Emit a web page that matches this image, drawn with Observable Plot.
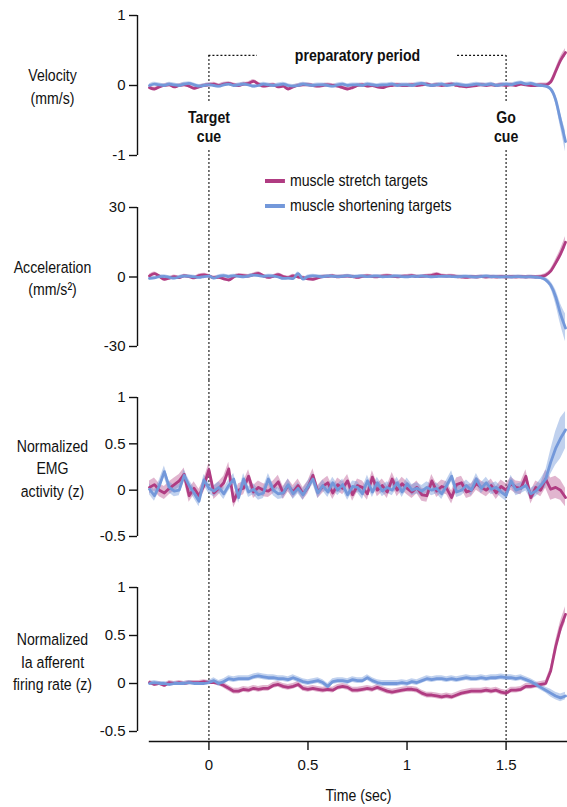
<!DOCTYPE html>
<html>
<head>
<meta charset="utf-8">
<script src="https://cdn.jsdelivr.net/npm/d3@7"></script>
<script src="https://cdn.jsdelivr.net/npm/@observablehq/plot@0.6"></script>
<style>
  body { margin: 0; background: #fff; }
  #fig { position: relative; width: 567px; height: 807px; overflow: hidden; background: #fff; }
  .panel { position: absolute; left: 0; }
  .legend { position: absolute; left: 265px; top: 168px; font-family: 'Liberation Sans', Arial, sans-serif; font-size: 17px; color: #111; line-height: 25px; transform: scaleX(0.83); transform-origin: left center; white-space: nowrap; }
  .legend .sw { display: inline-block; width: 24px; height: 4px; vertical-align: middle; margin-right: 6px; position: relative; top: -1px; }
</style>
</head>
<body>
<div id="fig"></div>
<script>
// ---------- data (time grid: -0.3 s to 1.8 s, every 0.025 s) ----------
const time = d3.range(85).map(i => +(-0.3 + 0.025 * i).toFixed(3));

const seriesNames = ["muscle stretch targets", "muscle shortening targets"];
const cueTimes = [0, 1.5];
const cueLabels = ["Target\ncue", "Go\ncue"];
const periodLabel = "preparatory period";
const xTicks = [0, 0.5, 1, 1.5];
const xLabel = "Time (sec)";

// Velocity (mm/s)
const velStretch = [
  -0.03,-0.05,-0.02,0.00,0.01,-0.02,0.00,0.01,-0.01,-0.04,-0.02,0.00,
  0.01,0.02,0.00,0.02,0.03,0.01,0.00,0.02,0.03,0.06,0.02,-0.01,
  0.00,0.01,-0.02,-0.01,-0.05,-0.02,0.00,0.01,0.01,0.00,-0.01,0.00,
  0.01,0.00,-0.01,-0.03,-0.05,-0.03,0.00,0.01,-0.01,0.00,-0.02,-0.03,
  -0.01,0.00,0.01,0.00,0.00,0.01,0.00,0.01,0.02,0.00,0.01,0.00,
  0.01,0.02,0.00,-0.01,-0.02,-0.01,0.00,0.01,0.00,0.01,0.00,0.01,
  0.00,0.01,0.00,0.02,0.01,0.00,0.00,0.01,0.01,0.05,0.20,0.36,
  0.47];
const velStretchSem = [
  0.025,0.025,0.025,0.025,0.025,0.025,0.025,0.025,0.025,0.025,0.025,0.025,
  0.025,0.025,0.025,0.025,0.025,0.025,0.025,0.025,0.025,0.025,0.025,0.025,
  0.025,0.025,0.025,0.025,0.025,0.025,0.025,0.025,0.025,0.025,0.025,0.025,
  0.025,0.025,0.025,0.025,0.025,0.025,0.025,0.025,0.025,0.025,0.025,0.025,
  0.025,0.025,0.025,0.025,0.025,0.025,0.025,0.025,0.025,0.025,0.025,0.025,
  0.025,0.025,0.025,0.025,0.025,0.025,0.025,0.025,0.025,0.025,0.025,0.025,
  0.025,0.025,0.025,0.025,0.025,0.025,0.025,0.025,0.025,0.03,0.04,0.05,
  0.06];
const velShort = [
  0.00,0.02,0.01,0.00,0.02,0.01,0.00,0.02,0.03,0.01,-0.01,0.00,
  0.01,0.00,-0.01,0.01,0.02,0.00,0.01,0.02,0.01,-0.01,0.00,0.02,
  0.01,0.00,0.01,0.02,0.00,-0.01,0.00,0.02,0.01,0.00,0.01,0.01,
  0.00,-0.01,0.01,0.02,0.00,0.01,0.01,0.00,0.02,0.01,0.00,0.01,
  0.01,0.02,0.00,0.01,0.01,0.00,0.02,0.03,0.01,0.00,0.01,0.02,
  0.00,0.01,0.02,0.01,0.00,0.01,0.02,0.01,0.01,0.02,0.00,0.01,
  0.02,0.01,0.03,0.04,0.02,0.03,0.01,0.00,-0.01,-0.05,-0.20,-0.50,
  -0.80];
const velShortSem = [
  0.025,0.025,0.025,0.025,0.025,0.025,0.025,0.025,0.025,0.025,0.025,0.025,
  0.025,0.025,0.025,0.025,0.025,0.025,0.025,0.025,0.025,0.025,0.025,0.025,
  0.025,0.025,0.025,0.025,0.025,0.025,0.025,0.025,0.025,0.025,0.025,0.025,
  0.025,0.025,0.025,0.025,0.025,0.025,0.025,0.025,0.025,0.025,0.025,0.025,
  0.025,0.025,0.025,0.025,0.025,0.025,0.025,0.025,0.025,0.025,0.025,0.025,
  0.025,0.025,0.025,0.025,0.025,0.025,0.025,0.025,0.025,0.025,0.025,0.025,
  0.025,0.025,0.025,0.025,0.025,0.025,0.025,0.025,0.025,0.03,0.06,0.10,
  0.15];

// Acceleration (mm/s^2)
const accStretch = [
  0.5,1.5,0.3,-1.0,-0.5,0.2,-0.3,0.5,0.2,-0.4,0.6,0.9,
  0.4,-0.3,-0.2,-0.8,-1.3,0.0,0.8,0.6,0.4,1.0,1.6,0.5,
  -0.2,0.3,1.0,0.2,-0.3,0.5,0.0,-0.3,-0.8,-1.0,-0.4,0.2,
  0.3,0.5,0.1,0.3,0.4,0.2,-0.2,0.3,0.5,0.2,0.1,0.4,
  0.6,0.3,0.1,0.3,0.4,0.6,0.2,0.3,0.5,0.7,1.2,0.6,
  0.4,0.5,0.2,0.0,-0.2,0.1,0.0,0.2,0.0,0.1,0.0,0.2,
  0.0,0.1,0.0,0.1,0.0,0.1,0.0,0.2,0.8,2.5,6.0,10.0,
  15.0];
const accStretchSem = [
  0.7,0.7,0.7,0.7,0.7,0.7,0.7,0.7,0.7,0.7,0.7,0.7,
  0.7,0.7,0.7,0.7,0.7,0.7,0.7,0.7,0.7,0.7,0.7,0.7,
  0.7,0.7,0.7,0.7,0.7,0.7,0.7,0.7,0.7,0.7,0.7,0.7,
  0.7,0.7,0.7,0.7,0.7,0.7,0.7,0.7,0.7,0.7,0.7,0.7,
  0.7,0.7,0.7,0.7,0.7,0.7,0.7,0.7,0.7,0.7,0.7,0.7,
  0.7,0.7,0.7,0.7,0.7,0.7,0.7,0.7,0.7,0.7,0.7,0.7,
  0.7,0.7,0.7,0.7,0.7,0.7,0.7,0.7,0.8,1.0,1.5,2.0,
  2.5];
const accShort = [
  -0.6,-0.4,0.2,0.3,-0.2,-0.5,0.0,0.4,0.3,0.1,-0.2,0.2,
  0.4,-0.5,0.3,0.6,0.2,0.5,0.3,0.1,0.4,0.8,0.6,0.3,
  0.5,0.4,0.0,-0.6,-0.5,-0.7,1.5,-0.9,0.2,0.5,0.3,0.1,
  0.4,0.3,0.2,0.3,0.5,0.2,0.3,0.4,0.2,0.3,0.4,0.1,
  0.2,0.3,0.4,0.2,0.1,0.3,0.2,0.4,0.3,0.1,0.2,0.3,
  0.3,0.2,0.1,0.2,0.3,0.1,0.0,0.2,0.4,0.1,0.2,0.0,
  0.1,0.0,0.2,0.1,0.0,0.1,-0.1,-0.3,-1.2,-3.5,-8.5,-16.0,
  -22.0];
const accShortSem = [
  0.7,0.7,0.7,0.7,0.7,0.7,0.7,0.7,0.7,0.7,0.7,0.7,
  0.7,0.7,0.7,0.7,0.7,0.7,0.7,0.7,0.7,0.7,0.7,0.7,
  0.7,0.7,0.7,0.7,0.7,0.7,0.7,0.7,0.7,0.7,0.7,0.7,
  0.7,0.7,0.7,0.7,0.7,0.7,0.7,0.7,0.7,0.7,0.7,0.7,
  0.7,0.7,0.7,0.7,0.7,0.7,0.7,0.7,0.7,0.7,0.7,0.7,
  0.7,0.7,0.7,0.7,0.7,0.7,0.7,0.7,0.7,0.7,0.7,0.7,
  0.7,0.7,0.7,0.7,0.7,0.7,0.7,0.8,1.0,1.5,3.0,4.5,
  6.0];

// Normalized EMG activity (z)
const emgStretch = [
  0.03,0.06,0.00,-0.03,0.02,0.06,0.10,0.17,-0.06,0.02,-0.06,0.05,
  0.22,-0.03,0.02,0.08,0.23,-0.12,0.00,0.02,0.15,-0.02,0.03,0.00,
  -0.01,0.03,0.09,-0.03,0.05,-0.02,0.05,-0.04,0.03,0.16,-0.02,0.04,
  0.08,-0.03,0.06,0.02,0.10,-0.05,0.05,0.03,-0.04,0.14,0.00,0.05,
  -0.02,0.12,0.00,0.07,0.02,-0.02,0.03,-0.05,-0.06,0.10,-0.01,0.04,
  0.02,-0.08,0.06,0.08,-0.02,0.00,0.07,0.03,0.00,0.05,-0.03,0.04,
  0.00,0.07,0.03,0.02,0.15,-0.08,0.03,0.00,0.12,0.01,0.03,0.00,
  -0.08];
const emgStretchSem = [
  0.07,0.07,0.07,0.07,0.07,0.07,0.07,0.07,0.07,0.07,0.07,0.07,
  0.07,0.07,0.07,0.07,0.07,0.07,0.07,0.07,0.07,0.07,0.07,0.07,
  0.07,0.07,0.07,0.07,0.07,0.07,0.07,0.07,0.07,0.07,0.07,0.07,
  0.07,0.07,0.07,0.07,0.07,0.07,0.07,0.07,0.07,0.07,0.07,0.07,
  0.07,0.07,0.07,0.07,0.07,0.07,0.07,0.07,0.07,0.07,0.07,0.07,
  0.07,0.07,0.07,0.07,0.07,0.07,0.07,0.07,0.07,0.07,0.07,0.07,
  0.07,0.07,0.07,0.07,0.07,0.07,0.07,0.07,0.10,0.12,0.12,0.11,
  0.10];
const emgShort = [
  0.01,-0.06,0.05,0.20,0.03,-0.01,0.00,0.16,0.05,-0.03,-0.12,0.11,
  0.02,-0.01,0.03,-0.04,0.05,0.12,-0.08,0.12,-0.02,0.01,-0.05,-0.03,
  0.12,0.00,-0.04,-0.03,0.06,-0.04,0.02,-0.05,0.04,0.12,-0.03,0.05,
  -0.02,0.08,0.00,0.06,-0.05,0.04,0.03,-0.04,0.10,-0.02,0.08,-0.01,
  0.03,0.00,0.08,-0.02,0.07,0.00,0.02,-0.01,0.03,0.00,0.02,-0.04,
  0.05,0.15,-0.02,0.00,0.05,0.00,0.12,0.02,0.08,0.01,0.03,-0.02,
  -0.06,0.10,0.00,0.02,0.05,-0.04,-0.01,0.05,0.12,0.30,0.45,0.56,
  0.65];
const emgShortSem = [
  0.06,0.06,0.06,0.06,0.06,0.06,0.06,0.06,0.06,0.06,0.06,0.06,
  0.06,0.06,0.06,0.06,0.06,0.06,0.06,0.06,0.06,0.06,0.06,0.06,
  0.06,0.06,0.06,0.06,0.06,0.06,0.06,0.06,0.06,0.06,0.06,0.06,
  0.06,0.06,0.06,0.06,0.06,0.06,0.06,0.06,0.06,0.06,0.06,0.06,
  0.06,0.06,0.06,0.06,0.06,0.06,0.06,0.06,0.06,0.06,0.06,0.06,
  0.06,0.06,0.06,0.06,0.06,0.06,0.06,0.06,0.06,0.06,0.06,0.06,
  0.06,0.06,0.06,0.06,0.06,0.06,0.06,0.07,0.09,0.13,0.18,0.22,
  0.20];

// Normalized Ia afferent firing rate (z)
const iaStretch = [
  0.01,-0.01,0.00,-0.02,0.01,0.00,0.01,0.00,0.01,0.01,0.01,0.02,
  0.01,0.01,0.00,-0.02,-0.05,-0.08,-0.08,-0.06,-0.07,-0.05,-0.06,-0.05,
  -0.05,-0.02,-0.01,-0.03,-0.04,-0.03,-0.01,-0.05,-0.06,-0.05,-0.06,-0.07,
  -0.06,-0.07,-0.04,-0.03,-0.04,-0.07,-0.07,-0.06,-0.05,-0.06,-0.04,-0.06,
  -0.08,-0.09,-0.08,-0.07,-0.06,-0.06,-0.07,-0.10,-0.12,-0.12,-0.13,-0.14,
  -0.13,-0.14,-0.12,-0.10,-0.09,-0.08,-0.08,-0.08,-0.07,-0.08,-0.07,-0.09,
  -0.10,-0.07,-0.07,-0.06,-0.03,-0.03,-0.02,-0.01,0.00,0.13,0.38,0.58,
  0.72];
const iaStretchSem = [
  0.02,0.02,0.02,0.02,0.02,0.02,0.02,0.02,0.02,0.02,0.02,0.02,
  0.02,0.02,0.02,0.03,0.03,0.03,0.03,0.03,0.03,0.03,0.03,0.03,
  0.03,0.03,0.03,0.03,0.03,0.03,0.03,0.03,0.03,0.03,0.03,0.03,
  0.03,0.03,0.03,0.03,0.03,0.03,0.03,0.03,0.03,0.03,0.03,0.03,
  0.03,0.03,0.03,0.03,0.03,0.03,0.03,0.03,0.03,0.03,0.03,0.03,
  0.03,0.03,0.03,0.03,0.03,0.03,0.03,0.03,0.03,0.03,0.03,0.03,
  0.03,0.03,0.03,0.03,0.03,0.03,0.03,0.03,0.03,0.04,0.06,0.07,
  0.08];
const iaShort = [
  0.00,0.01,0.00,0.00,-0.01,0.00,0.00,0.00,0.01,0.00,0.00,0.00,
  0.01,0.03,0.00,0.02,0.05,0.04,0.05,0.05,0.05,0.07,0.08,0.07,
  0.06,0.06,0.05,0.05,0.04,0.06,0.04,0.02,0.01,0.02,0.03,0.01,
  -0.03,0.02,0.03,0.03,0.02,0.04,0.03,0.03,0.06,0.03,0.01,0.00,
  0.00,0.00,0.00,0.01,0.00,0.02,0.01,0.03,0.05,0.04,0.05,0.05,
  0.04,0.05,0.04,0.05,0.06,0.05,0.05,0.06,0.05,0.06,0.06,0.07,
  0.06,0.06,0.05,0.06,0.04,0.02,-0.01,-0.04,-0.07,-0.10,-0.13,-0.15,
  -0.13];
const iaShortSem = [
  0.02,0.02,0.02,0.02,0.02,0.02,0.02,0.02,0.02,0.02,0.02,0.02,
  0.02,0.03,0.03,0.03,0.03,0.03,0.03,0.03,0.03,0.03,0.03,0.03,
  0.03,0.03,0.03,0.03,0.03,0.03,0.03,0.03,0.03,0.03,0.03,0.03,
  0.03,0.03,0.03,0.03,0.03,0.03,0.03,0.03,0.03,0.03,0.03,0.03,
  0.03,0.03,0.03,0.03,0.03,0.03,0.03,0.03,0.03,0.03,0.03,0.03,
  0.03,0.03,0.03,0.03,0.03,0.03,0.03,0.03,0.03,0.03,0.03,0.03,
  0.03,0.03,0.03,0.03,0.03,0.03,0.03,0.03,0.03,0.04,0.04,0.04,
  0.04];

// ---------- styling ----------
const PINK = "#b03c82";
const BLUE = "#7398da";
const INK = "#111";
const labelFont = "'Liberation Sans', Arial, sans-serif";
const tickFont = "'Liberation Sans', Arial, sans-serif";
const SQUEEZE = 0.83;   // condensed look of the original label face
const X_DOMAIN = [-0.3, 1.81];
const fmt = d => String(d);

function panel(cfg) {
  const rows = (m, s) => time.map((t, i) => ({t, m: m[i], lo: m[i] - s[i], hi: m[i] + s[i]}));
  const a = rows(cfg.stretch, cfg.stretchSem);
  const b = rows(cfg.short, cfg.shortSem);
  const curve = cfg.curve;
  const lbl = {fontFamily: labelFont, fontSize: 17, fill: INK, className: "narrow"};
  const marks = [
    ...(cfg.rules || [Plot.ruleX(cueTimes, {stroke: INK, strokeWidth: 1.1, strokeDasharray: "2,2"})]),
    Plot.areaY(a, {x: "t", y1: "lo", y2: "hi", fill: PINK, fillOpacity: 0.38, curve}),
    Plot.areaY(b, {x: "t", y1: "lo", y2: "hi", fill: BLUE, fillOpacity: 0.45, curve}),
    Plot.lineY(a, {x: "t", y: "m", stroke: PINK, strokeWidth: 2.8, curve}),
    Plot.lineY(b, {x: "t", y: "m", stroke: BLUE, strokeWidth: 2.8, curve}),
    Plot.ruleX([X_DOMAIN[0]], {y1: cfg.yDomain[0], y2: cfg.yDomain[1], dx: -12, stroke: INK, strokeWidth: 1.4}),
    Plot.axisY({anchor: "left", ticks: cfg.yTicks, tickFormat: fmt, tickSize: 8, tickPadding: 4, dx: -12,
      fontSize: 15, fontFamily: tickFont, fill: INK, stroke: INK, strokeWidth: 1.4, label: null}),
    Plot.text([{label: cfg.label, y: cfg.labelY}], {text: "label", y: "y", frameAnchor: "left", dx: -97,
      textAnchor: "middle", lineAnchor: "middle", lineHeight: 1.32, ...lbl}),
    ...(cfg.extra ? cfg.extra(lbl) : [])
  ];
  const p = Plot.plot({
    width: 567, height: cfg.height,
    marginLeft: 149, marginRight: 0, marginTop: 0, marginBottom: cfg.marginBottom || 0,
    x: {domain: X_DOMAIN, axis: cfg.xAxis ? undefined : null},
    y: {domain: cfg.yDomain, range: cfg.yRange},
    style: {background: "transparent", overflow: "visible", color: INK},
    marks
  });
  const wrap = document.createElement("div");
  wrap.className = "panel";
  wrap.style.top = cfg.top + "px";
  wrap.appendChild(p);
  return wrap;
}

const fig = document.getElementById("fig");

// annotation positions in velocity-panel units
const bracketY = 0.43, cueTextY = -0.586, upperRuleEnd = -0.257, lowerRuleStart = -0.93, panelBottom = -1.5;
const bracketGap = [0.245, 1.255];

fig.appendChild(panel({
  top: 0, height: 190, yDomain: [-1, 1], yRange: [155, 15], yTicks: [-1, 0, 1],
  stretch: velStretch, stretchSem: velStretchSem, short: velShort, shortSem: velShortSem,
  label: "Velocity\n(mm/s)", labelY: 0, curve: "monotone-x",
  rules: [
    Plot.ruleX(cueTimes, {y1: bracketY, y2: upperRuleEnd, stroke: INK, strokeWidth: 1.1, strokeDasharray: "2,2"}),
    Plot.ruleX(cueTimes, {y1: lowerRuleStart, y2: panelBottom, stroke: INK, strokeWidth: 1.1, strokeDasharray: "2,2"}),
    Plot.ruleY([bracketY], {x1: cueTimes[0], x2: bracketGap[0], stroke: INK, strokeWidth: 1.1, strokeDasharray: "2,2"}),
    Plot.ruleY([bracketY], {x1: bracketGap[1], x2: cueTimes[1], stroke: INK, strokeWidth: 1.1, strokeDasharray: "2,2"})
  ],
  extra: lbl => [
    Plot.text([periodLabel], {text: d => d, x: (cueTimes[0] + cueTimes[1]) / 2, y: bracketY, lineAnchor: "middle",
      fontWeight: "bold", ...lbl}),
    Plot.text(cueTimes, {x: d => d, y: cueTextY, text: (d, i) => cueLabels[i], lineAnchor: "middle", lineHeight: 1.1,
      fontWeight: "bold", ...lbl})
  ]
}));

fig.appendChild(panel({
  top: 190, height: 190, yDomain: [-30, 30], yRange: [156, 17], yTicks: [-30, 0, 30],
  stretch: accStretch, stretchSem: accStretchSem, short: accShort, shortSem: accShortSem,
  label: "Acceleration\n(mm/s²)", labelY: 0, curve: "monotone-x"
}));

fig.appendChild(panel({
  top: 380, height: 190, yDomain: [-0.5, 1], yRange: [156, 17], yTicks: [-0.5, 0, 0.5, 1],
  stretch: emgStretch, stretchSem: emgStretchSem, short: emgShort, shortSem: emgShortSem,
  label: "Normalized\nEMG\nactivity (z)", labelY: 0.25, curve: "linear"
}));

fig.appendChild(panel({
  top: 570, height: 237, marginBottom: 66, yDomain: [-0.5, 1], yRange: [161, 17], yTicks: [-0.5, 0, 0.5, 1],
  stretch: iaStretch, stretchSem: iaStretchSem, short: iaShort, shortSem: iaShortSem,
  label: "Normalized\nIa afferent\nfiring rate (z)", labelY: 0.24, curve: "linear", xAxis: true,
  extra: lbl => [
    Plot.frame({anchor: "bottom", stroke: INK, strokeWidth: 1.4}),
    Plot.axisX({ticks: xTicks, tickFormat: fmt, tickSize: 9, tickPadding: 9, fontSize: 15, fontFamily: tickFont,
      fill: INK, stroke: INK, strokeWidth: 1.4, label: null}),
    Plot.text([xLabel], {text: d => d, frameAnchor: "bottom", dy: 54, lineAnchor: "middle", ...lbl})
  ]
}));

// condense the (middle-anchored) label texts horizontally about their own centre,
// appending to whatever transform Plot gave them
fig.querySelectorAll("g.narrow text").forEach(t => {
  const bb = t.getBBox();
  const cx = bb.x + bb.width / 2;
  const tr = t.getAttribute("transform") || "";
  t.setAttribute("transform", `${tr} translate(${cx},0) scale(${SQUEEZE},1) translate(${-cx},0)`.trim());
});

// legend
const legend = document.createElement("div");
legend.className = "legend";
legend.innerHTML = seriesNames.map((n, i) =>
  `<div><span class="sw" style="background:${i ? BLUE : PINK}"></span>${n}</div>`).join("");
fig.appendChild(legend);
</script>
</body>
</html>
